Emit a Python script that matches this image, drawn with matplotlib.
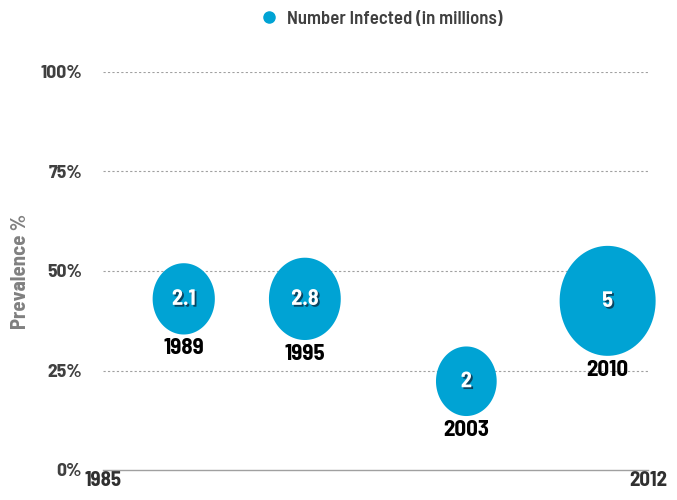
import matplotlib
matplotlib.use("Agg")
import matplotlib.pyplot as plt
import numpy as np
from matplotlib.path import Path
from matplotlib.lines import Line2D
import matplotlib.patheffects as pe
from matplotlib import font_manager

years = [1989, 1995, 2003, 2010]
prevalence = [43, 43, 22.3, 42.5]
infected = [2.1, 2.8, 2, 5]
year_labels = ["1989", "1995", "2003", "2010"]
value_labels = ["2.1", "2.8", "2", "5"]
y_ticks = [0, 25, 50, 75, 100]
y_tick_labels = ["0%", "25%", "50%", "75%", "100%"]
x_ticks = [1985, 2012]

names = {f.name for f in font_manager.fontManager.ttflist}
fams = [f for f in ["Barlow Semi Condensed", "Asap Condensed"] if f in names] + ["DejaVu Sans"]
plt.rcParams['font.family'] = fams

color = "#00A3D4"

fig = plt.figure(figsize=(6.77, 5.0), dpi=100)
ax = fig.add_axes([103/677, 30/500, 545/677, 398/500])
ax.set_xlim(1985, 2012)
ax.set_ylim(0, 100)

# ellipse marker (taller than wide)
t = np.linspace(0, 2*np.pi, 100)
verts = np.column_stack([np.cos(t) * (96/110), np.sin(t)])
ell = Path(verts, closed=True)

max_h_pt = 110 * 0.72
sizes = [max_h_pt**2 * v / max(infected) for v in infected]
ax.scatter(years, prevalence, s=sizes, marker=ell, color=color, edgecolors='none',
           clip_on=False, zorder=3)

for x, y, v, vl, yl in zip(years, prevalence, infected, value_labels, year_labels):
    ax.text(x, y, vl, ha='center', va='center', color='white', fontsize=16,
            fontweight='bold', zorder=5,
            path_effects=[pe.withSimplePatchShadow(offset=(1.3, -1.3), shadow_rgbFace='#0b3b55', alpha=0.9)])
    half_h = np.sqrt(max_h_pt**2 * v / max(infected)) / 2
    ax.annotate(yl, (x, y), xytext=(0, -half_h - 10), textcoords='offset points',
                ha='center', va='center', fontsize=16.5, fontweight='bold', color='black', zorder=5)

ax.set_yticks(y_ticks)
ax.set_yticklabels(y_tick_labels, fontsize=14, fontweight='bold', color='#404040')
ax.set_xticks(x_ticks)
ax.set_xticklabels([str(x) for x in x_ticks], fontsize=15, fontweight='bold', color='#303030')
ax.tick_params(axis='both', length=0)
ax.tick_params(axis='y', pad=15)
ax.tick_params(axis='x', pad=1)

for yv in y_ticks[1:]:
    ax.axhline(yv, color='#a0a0a0', linestyle=(0, (2, 2)), linewidth=0.8, zorder=1)
for s in ['top', 'right', 'left']:
    ax.spines[s].set_visible(False)
ax.spines['bottom'].set_color('#a0a0a0')
ax.spines['bottom'].set_linewidth(1)

ax.set_ylabel("Prevalence %", fontsize=15, fontweight='bold', color='#808080')
ax.yaxis.set_label_coords((30 - 103) / 545, 0.5)

handle = Line2D([], [], marker='o', color=color, linestyle='none', markersize=8)
fig.legend([handle], ["Number Infected (in millions)"], loc='center',
           bbox_to_anchor=(381/677, 1 - 19/500), frameon=False,
           prop={'size': 13.5, 'weight': 'semibold'}, labelcolor='#404040',
           handlelength=1.0, handletextpad=0.45)

fig.savefig("out.png", dpi=100)
